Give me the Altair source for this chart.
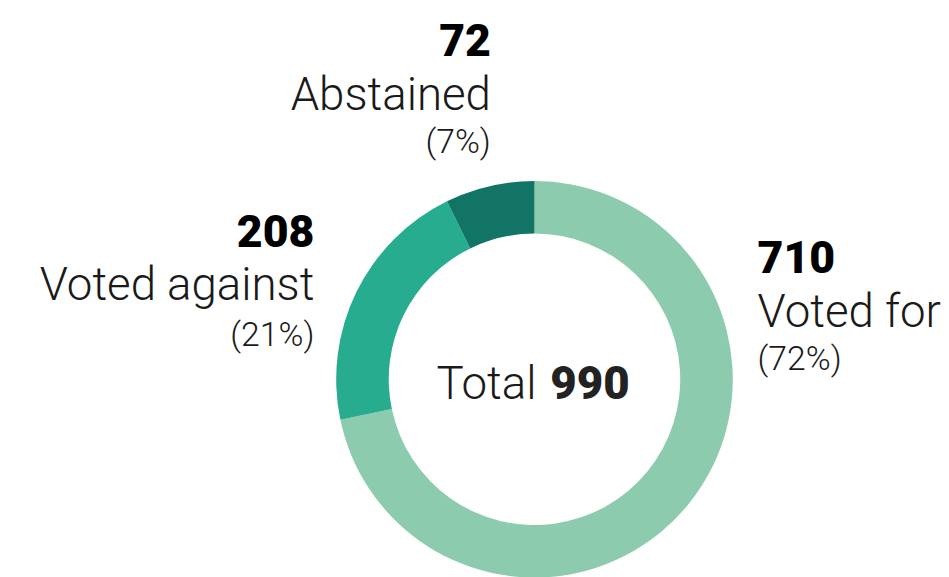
import altair as alt
import pandas as pd

# ---- data ----
categories = ["Voted for", "Voted against", "Abstained"]
votes = [710, 208, 72]
colors = ["#8dcbae", "#27ac8f", "#127464"]
total_label = "Total"

total = sum(votes)
df = pd.DataFrame({
    "category": categories,
    "votes": votes,
    "order": list(range(len(categories))),
})
df["num"] = df["votes"].astype(str)
df["pct"] = ["(" + str(round(v / total * 100)) + "%)" for v in votes]
df["total"] = total

W, H = 941, 569
DX = 4
CX, CY = 527 + DX, 372
FONT = "Roboto"

base = alt.Chart(df)

ring = base.mark_arc(innerRadius=147, outerRadius=200).encode(
    theta=alt.Theta("votes:Q", stack=True),
    order=alt.Order("order:Q"),
    color=alt.Color("category:N", scale=alt.Scale(domain=categories, range=colors), legend=None),
    x=alt.value(CX),
    y=alt.value(CY),
)

# label layout: (anchor x, align, baselines for number/name/pct)
layout = {
    "Voted for": (752 + DX, "left", (265, 319, 363)),
    "Voted against": (305 + DX, "right", (239, 292, 338)),
    "Abstained": (483 + DX, "right", (46, 100, 144)),
}

layers = [ring]
for cat, (lx, al, (b1, b2, b3)) in layout.items():
    sub = base.transform_filter(alt.datum.category == cat)
    layers.append(sub.mark_text(font=FONT, fontSize=45, fontWeight=900, color="#000000",
                                align=al, baseline="alphabetic").encode(
        text="num:N", x=alt.value(lx), y=alt.value(b1)))
    layers.append(sub.mark_text(font=FONT, fontSize=46, fontWeight=300, color="#1a1a1a",
                                align=al, baseline="alphabetic").encode(
        text="category:N", x=alt.value(lx), y=alt.value(b2)))
    layers.append(sub.mark_text(font=FONT, fontSize=34, fontWeight=300, color="#1a1a1a",
                                align=al, baseline="alphabetic").encode(
        text="pct:N", x=alt.value(lx), y=alt.value(b3)))

first = base.transform_filter(alt.datum.order == 0)
layers.append(first.mark_text(font=FONT, fontSize=46, fontWeight=300, color="#1a1a1a",
                              align="right", baseline="alphabetic").encode(
    text=alt.value(total_label), x=alt.value(529 + DX), y=alt.value(392)))
layers.append(first.mark_text(font=FONT, fontSize=46, fontWeight=900, color="#222222",
                              align="left", baseline="alphabetic").encode(
    text="total:N", x=alt.value(543 + DX), y=alt.value(392)))

chart = alt.layer(*layers).properties(
    width=W, height=H, padding=0, autosize=alt.AutoSizeParams(type="none")
).configure_view(stroke=None)

chart.save("out.html", embed_options={"renderer": "svg", "actions": False})
